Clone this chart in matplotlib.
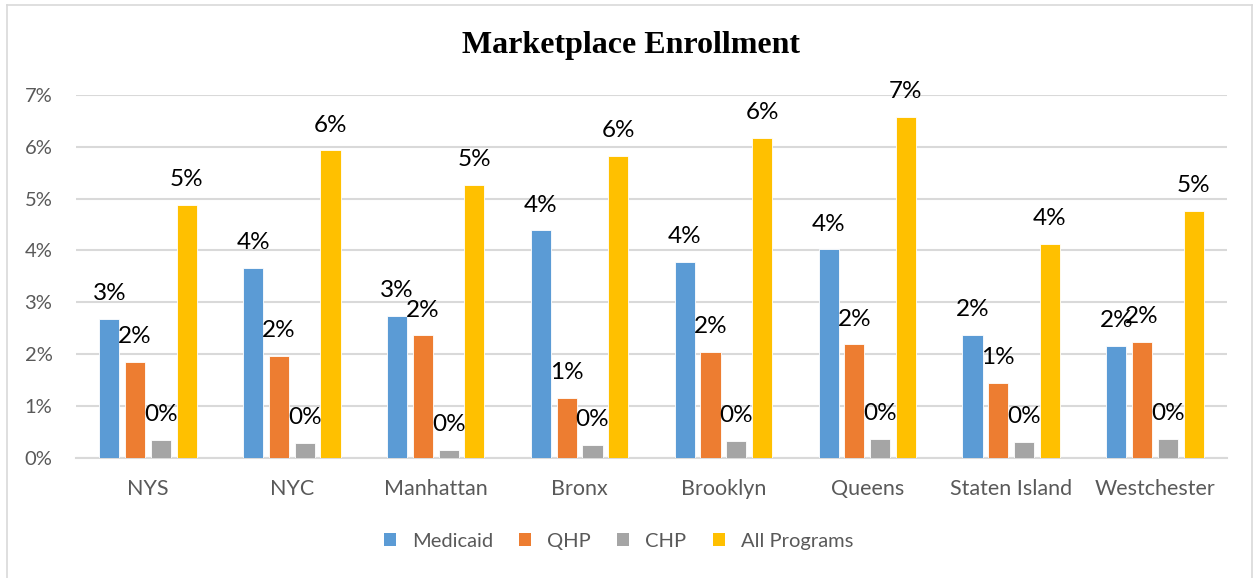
import matplotlib

matplotlib.use("Agg")
import matplotlib.pyplot as plt
import numpy as np
from matplotlib.lines import Line2D
from matplotlib.patches import Patch
from matplotlib.ticker import FuncFormatter

# data (fractions)
regions = ["NYS", "NYC", "Manhattan", "Bronx", "Brooklyn", "Queens",
           "Staten Island", "Westchester"]
medicaid = [0.0268, 0.0367, 0.0274, 0.0439, 0.0378, 0.0402, 0.0237, 0.0216]
qhp = [0.0185, 0.0196, 0.0236, 0.0115, 0.0205, 0.0219, 0.0145, 0.0223]
chp = [0.0034, 0.0029, 0.0015, 0.0025, 0.0032, 0.0036, 0.0030, 0.0036]
all_programs = [0.0488, 0.0593, 0.0526, 0.0582, 0.0617, 0.0658, 0.0413, 0.0476]

series_names = ["Medicaid", "QHP", "CHP", "All Programs"]
series_colors = ["#5B9BD5", "#ED7D31", "#A5A5A5", "#FFC000"]

FONT = "Lato"
GREY_TEXT = "#595959"
GRID = "#D9D9D9"

fig = plt.figure(figsize=(12.53, 5.78), dpi=100)
ax = fig.add_axes([0.0607, 0.208, 0.9185, 0.6276])

x = np.arange(len(regions))
step = 0.179
width = 0.14
all_series = [medicaid, qhp, chp, all_programs]
for i, (vals, color) in enumerate(zip(all_series, series_colors)):
    offset = (i - 1.5) * step
    bars = ax.bar(x + offset, vals, width=width, color=color,
                  edgecolor="white", linewidth=0.6, zorder=3)
    for rect, v in zip(bars, vals):
        ax.annotate(f"{v * 100:.0f}%",
                    (rect.get_x() + rect.get_width() / 2, rect.get_height()),
                    xytext=(0, 13.5), textcoords="offset points",
                    ha="center", va="baseline", fontsize=17.5,
                    family=FONT, color="black", zorder=4)

ax.set_xlim(-0.5, len(regions) - 0.5)
ax.set_ylim(0, 0.07)
ax.set_yticks(np.arange(0, 0.071, 0.01))
ax.yaxis.set_major_formatter(FuncFormatter(lambda v, _: f"{v * 100:.0f}%"))
ax.set_xticks(x)
ax.set_xticklabels(regions)

ax.grid(axis="y", color=GRID, linewidth=1.5, zorder=0)
for side in ["top", "right", "left"]:
    ax.spines[side].set_visible(False)
ax.spines["bottom"].set_color(GRID)
ax.spines["bottom"].set_linewidth(1.5)
ax.tick_params(axis="both", length=0)
ax.tick_params(axis="y", pad=17, labelsize=14.5, labelcolor=GREY_TEXT)
ax.tick_params(axis="x", pad=15, labelsize=15.5, labelcolor=GREY_TEXT)
for lbl in ax.get_xticklabels() + ax.get_yticklabels():
    lbl.set_family(FONT)

fig.text(0.5035, 0.921, "Marketplace Enrollment", ha="center", va="center",
         fontsize=23, fontweight="bold", family="Liberation Serif")

handles = [Patch(facecolor=c, edgecolor="none") for c in series_colors]
fig.legend(handles, series_names, loc="center", bbox_to_anchor=(0.4935, 0.064),
           ncol=4, frameon=False, handlelength=0.6, handleheight=0.6,
           handletextpad=0.8, columnspacing=1.3,
           prop={"family": FONT, "size": 14.5}, labelcolor=GREY_TEXT)

# thin chart border (top / left / right)
fig.add_artist(Line2D([0.0056, 0.9992], [0.991, 0.991], color=GRID, lw=1.2))
fig.add_artist(Line2D([0.0056, 0.0056], [0.0, 0.991], color=GRID, lw=1.2))
fig.add_artist(Line2D([0.9992, 0.9992], [0.0, 0.991], color=GRID, lw=1.2))

fig.savefig("out.png", dpi=100)
